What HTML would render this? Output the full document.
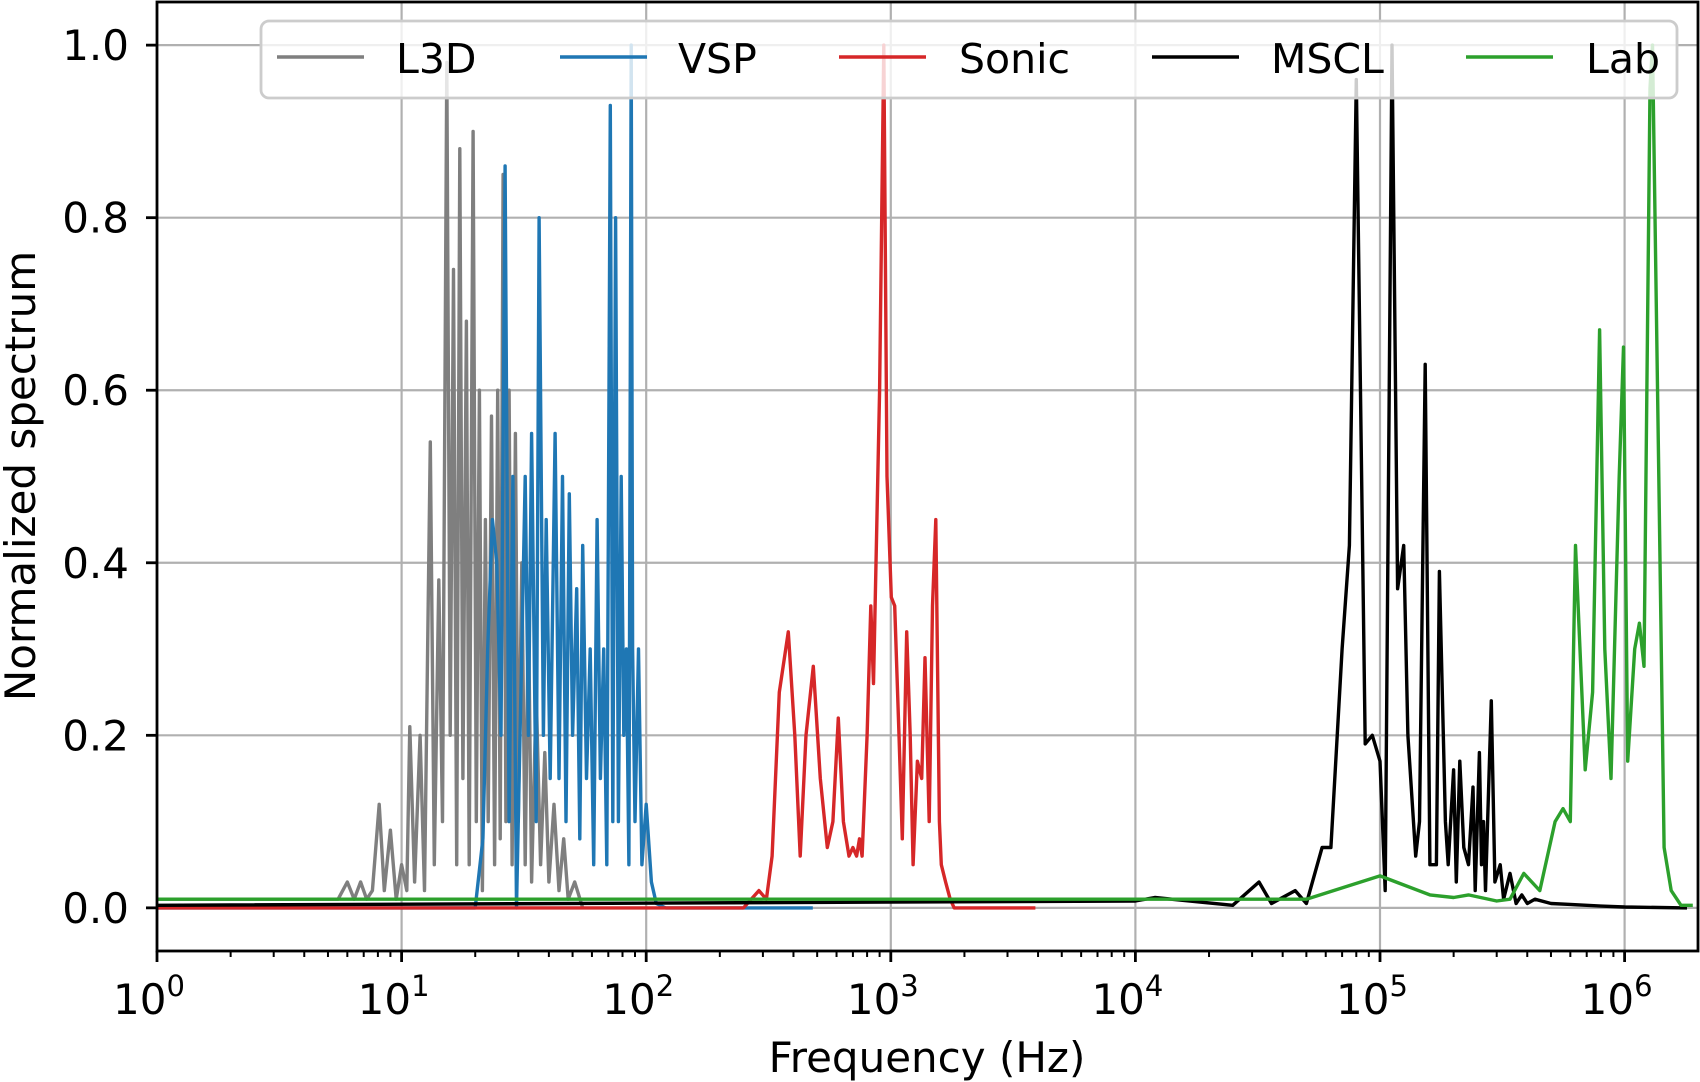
<!DOCTYPE html>
<html><head><meta charset="utf-8"><style>
html,body{margin:0;padding:0;background:#fff;}
svg{display:block;font-family:"DejaVu Sans","Liberation Sans",sans-serif;}
</style></head><body>
<svg id="chart" width="1700" height="1082" viewBox="0 0 1700 1082" xmlns="http://www.w3.org/2000/svg"></svg>
<script>
// ---- data ----
const seriesNames = ["L3D","VSP","Sonic","MSCL","Lab"];
const seriesColors = ["#7f7f7f","#1f77b4","#d62728","#000000","#2ca02c"];
const l3dFreq = [1,5.5,6,6.4,6.8,7.2,7.6,8.1,8.5,9,9.5,10,10.5,10.8,11.3,11.9,12.4,13.1,13.6,14.2,14.7,15.3,15.8,16.3,16.8,17.3,17.8,18.4,18.9,19.6,20.2,20.8,21.4,22,22.6,23.3,24,24.7,25.3,26,26.7,27.5,28.3,29.2,30,31,32,33,34,35.5,37,38.5,40,42,44,46,48,51,55];
const l3dVal = [0.01,0.01,0.03,0.01,0.03,0.01,0.02,0.12,0.02,0.09,0.01,0.05,0.02,0.21,0.03,0.2,0.02,0.54,0.05,0.38,0.1,0.98,0.2,0.74,0.05,0.88,0.15,0.68,0.05,0.9,0.1,0.6,0.02,0.45,0.1,0.57,0.05,0.6,0.08,0.85,0.1,0.6,0.05,0.55,0.1,0.4,0.05,0.35,0.03,0.25,0.05,0.18,0.03,0.12,0.02,0.08,0.01,0.03,0.0];
const vspFreq = [1,20,21.5,22.5,23.5,24.5,25.5,26.5,27.5,28.5,29.5,31,32,33,34,35.5,36.5,38,39,40.5,42.4,44,45.5,47,48.5,50,52,53.5,55,57,59,61,63,65,67,69,71.3,73,75,77,79,81,83,85,86.8,88,90,93,96,100,105,110,120,480];
const vspVal = [0,0,0.08,0.3,0.45,0.4,0.2,0.86,0.1,0.5,0.0,0.3,0.5,0.2,0.55,0.1,0.8,0.2,0.45,0.15,0.55,0.15,0.5,0.1,0.48,0.2,0.37,0.08,0.42,0.15,0.3,0.05,0.45,0.15,0.3,0.05,0.93,0.1,0.8,0.1,0.5,0.2,0.3,0.05,1.0,0.3,0.1,0.3,0.05,0.12,0.03,0.005,0,0];
const sonicFreq = [1,250,289,310,327,350,381,405,426,450,482,515,550,580,610,640,675,700,725,745,763,800,828,850,900,936,965,1005,1037,1080,1114,1161,1200,1234,1285,1338,1380,1436,1481,1528,1580,1608,1675,1750,1817,3900];
const sonicVal = [0,0,0.02,0.01,0.06,0.25,0.32,0.2,0.06,0.2,0.28,0.15,0.07,0.1,0.22,0.1,0.06,0.07,0.06,0.08,0.06,0.2,0.35,0.26,0.6,1.0,0.5,0.36,0.35,0.2,0.08,0.32,0.2,0.05,0.17,0.15,0.29,0.1,0.35,0.45,0.1,0.05,0.03,0.01,0,0];
const msclFreq = [1,1e4,1.2e4,2.5e4,3.2e4,3.6e4,4.5e4,5e4,5.8e4,6.3e4,7e4,7.5e4,8e4,8.7e4,9.3e4,1e5,1.05e5,1.12e5,1.18e5,1.25e5,1.3e5,1.4e5,1.45e5,1.53e5,1.6e5,1.7e5,1.75e5,1.85e5,1.9e5,2e5,2.05e5,2.12e5,2.2e5,2.3e5,2.4e5,2.45e5,2.55e5,2.6e5,2.65e5,2.7e5,2.85e5,2.95e5,3.1e5,3.2e5,3.4e5,3.6e5,3.8e5,4e5,4.3e5,5e5,6e5,8e5,1e6,1.8e6];
const msclVal = [0.003,0.008,0.012,0.003,0.03,0.005,0.02,0.005,0.07,0.07,0.3,0.42,0.96,0.19,0.2,0.17,0.02,1.0,0.37,0.42,0.2,0.06,0.1,0.63,0.05,0.05,0.39,0.1,0.05,0.16,0.03,0.17,0.07,0.05,0.14,0.02,0.18,0.05,0.1,0.02,0.24,0.03,0.05,0.01,0.04,0.005,0.015,0.005,0.01,0.005,0.004,0.002,0.001,0];
const labFreq = [1,5e4,1e5,1.6e5,2e5,2.3e5,3e5,3.4e5,3.87e5,4.5e5,5.2e5,5.6e5,6e5,6.3e5,6.9e5,7.4e5,7.9e5,8.3e5,8.8e5,9.5e5,9.9e5,1.03e6,1.1e6,1.15e6,1.2e6,1.27e6,1.3e6,1.38e6,1.45e6,1.55e6,1.7e6,1.9e6];
const labVal = [0.01,0.01,0.037,0.015,0.012,0.015,0.008,0.01,0.04,0.02,0.1,0.115,0.1,0.42,0.16,0.25,0.67,0.3,0.15,0.5,0.65,0.17,0.3,0.33,0.28,0.95,1.0,0.5,0.07,0.02,0.003,0.003];
const yTicks = [0.0,0.2,0.4,0.6,0.8,1.0];
const yTickLabels = ["0.0","0.2","0.4","0.6","0.8","1.0"];
const xDecades = [0,1,2,3,4,5,6];

// ---- layout ----
const L=157, R=1698, T=2, B=951;
const decW=244.6;
const yMin=-0.05, yMax=1.05;
function X(f){return L+Math.log10(f)*decW;}
function Y(v){return B-(v-yMin)/(yMax-yMin)*(B-T);}
const NS="http://www.w3.org/2000/svg";
const svg=document.getElementById('chart');
function mk(tag,attrs,parent){const e=document.createElementNS(NS,tag);for(const k in attrs)e.setAttribute(k,attrs[k]);(parent||svg).appendChild(e);return e;}

// grid
const grid=mk('g',{});


yTicks.forEach(v=>{const l=mk('line',{x1:L,x2:R,y1:Y(v),y2:Y(v),stroke:'#b0b0b0','stroke-width':2.2},grid);

});
xDecades.forEach(d=>{const l=mk('line',{x1:X(Math.pow(10,d)),x2:X(Math.pow(10,d)),y1:T,y2:B,stroke:'#b0b0b0','stroke-width':2.2},grid);

});

// series
const allF=[l3dFreq,vspFreq,sonicFreq,msclFreq,labFreq];
const allV=[l3dVal,vspVal,sonicVal,msclVal,labVal];
const clip=mk('clipPath',{id:'pc'});mk('rect',{x:L,y:T,width:R-L,height:B-T},clip);
for(let s=0;s<5;s++){
  const pts=allF[s].map((f,i)=>X(f).toFixed(1)+','+Y(allV[s][i]).toFixed(1)).join(' ');
  const p=mk('polyline',{points:pts,fill:'none',stroke:seriesColors[s],'stroke-width':3.4,'stroke-linejoin':'round','clip-path':'url(#pc)'});
  
  
}

// axes frame
const frame=mk('rect',{x:L,y:T,width:R-L,height:B-T,fill:'none',stroke:'#000','stroke-width':2.8});



// y ticks
yTicks.forEach((v,i)=>{
  mk('line',{x1:L-11,x2:L,y1:Y(v),y2:Y(v),stroke:'#000','stroke-width':2.8});
  const t=mk('text',{x:L-28,y:Y(v)+15,'text-anchor':'end','font-size':42,fill:'#000'});
  t.textContent=yTickLabels[i];
  
  
});
// x ticks
xDecades.forEach(d=>{
  const x=X(Math.pow(10,d));
  mk('line',{x1:x,x2:x,y1:B,y2:B+11,stroke:'#000','stroke-width':2.8});
  const t=mk('text',{x:x-8,y:1014,'text-anchor':'middle','font-size':42,fill:'#000'});
  t.textContent='10';
  const sup=mk('tspan',{dy:-18,'font-size':29},t);sup.textContent=String(d);
  
  
  for(let k=2;k<=9;k++){const lx=L+(d+Math.log10(k))*decW;if(lx<R)mk('line',{x1:lx,x2:lx,y1:B,y2:B+6,stroke:'#000','stroke-width':2});}
});

// labels
const xl=mk('text',{x:927,y:1072,'text-anchor':'middle','font-size':42,fill:'#000'});
xl.textContent='Frequency (Hz)';


const yl=mk('text',{x:0,y:0,'text-anchor':'middle','font-size':42,fill:'#000',transform:'translate(35,476) rotate(-90)'});
yl.textContent='Normalized spectrum';



// legend
const lg=mk('g',{});


mk('rect',{x:261,y:21,width:1416,height:77,rx:8,fill:'#fff','fill-opacity':0.8,stroke:'#cccccc','stroke-width':2.8},lg);
const lineX=[277,560,839,1152,1466];
const textX=[396,678,959,1271,1586];
for(let s=0;s<5;s++){
  const e=mk('g',{},lg);
  
  
  mk('line',{x1:lineX[s],x2:lineX[s]+87,y1:57,y2:57,stroke:seriesColors[s],'stroke-width':3.4},e);
  const t=mk('text',{x:textX[s],y:73,'font-size':41,fill:'#000'},e);
  t.textContent=seriesNames[s];
}
</script>
</body></html>
